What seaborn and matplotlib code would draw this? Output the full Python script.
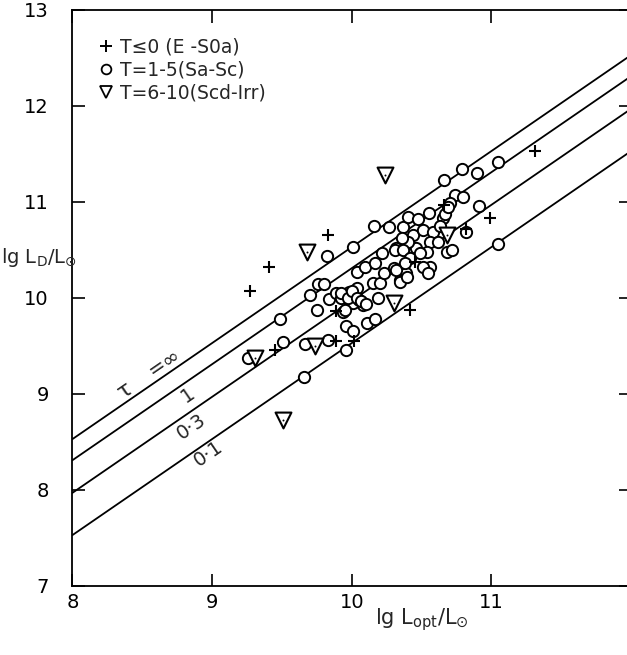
import numpy as np
import pandas as pd
import matplotlib
matplotlib.use("Agg")
import matplotlib.pyplot as plt
import seaborn as sns
from matplotlib.lines import Line2D

# ---- data ----
early_x = [11.31, 10.99, 9.83, 9.41, 9.27, 10.42, 9.89, 9.45, 9.89, 10.02, 10.82, 10.66, 10.45]
early_y = [11.53, 10.83, 10.66, 10.32, 10.07, 9.88, 9.86, 9.46, 9.55, 9.55, 10.72, 10.97, 10.37]

spiral_x = [9.26, 9.51, 9.49, 9.665, 9.66, 9.70, 9.75, 9.76, 9.80, 9.82, 9.83, 9.84, 9.94,
            9.96, 9.96, 10.01, 10.11, 10.17, 9.89, 9.96, 10.035, 10.08, 10.01, 9.92, 9.98,
            10.05, 10.006, 10.035, 10.094, 10.166, 10.154, 10.20, 10.19, 10.214, 10.23,
            10.161, 10.264, 10.30, 10.32, 10.345, 10.39, 10.37, 10.405, 10.476, 10.555,
            10.44, 10.51, 10.583, 10.56, 10.62, 10.536, 10.464, 10.405, 10.357, 10.31,
            10.37, 10.417, 10.49, 10.56, 10.51, 10.38, 10.32, 10.548, 10.345, 10.393,
            10.655, 10.63, 10.665, 10.66, 10.79, 10.90, 11.05, 10.739, 10.80, 10.703,
            10.69, 10.913, 10.817, 10.684, 10.715, 11.05, 9.92, 9.97, 10.00, 10.04,
            10.07, 10.10, 9.95]
spiral_y = [9.37, 9.545, 9.78, 9.52, 9.18, 10.03, 9.875, 10.143, 10.146, 10.44, 9.56, 9.99,
            9.857, 9.458, 9.71, 9.66, 9.736, 9.78, 10.05, 10.03, 10.10, 9.93, 9.945, 10.0,
            10.06, 9.98, 10.535, 10.27, 10.32, 10.36, 10.16, 10.16, 10.0, 10.465, 10.257,
            10.753, 10.736, 10.31, 10.518, 10.19, 10.257, 10.743, 10.847, 10.82, 10.882,
            10.656, 10.708, 10.69, 10.586, 10.586, 10.48, 10.518, 10.586, 10.62, 10.5,
            10.5, 10.413, 10.466, 10.326, 10.326, 10.36, 10.29, 10.257, 10.17, 10.22,
            10.83, 10.75, 10.875, 11.23, 11.34, 11.30, 11.42, 11.07, 11.055, 10.99,
            10.95, 10.958, 10.69, 10.48, 10.50, 10.56, 10.05, 10.0, 10.07, 10.0,
            9.97, 9.94, 9.87]

late_x = [10.24, 9.68, 9.31, 9.74, 9.505, 10.30, 10.68]
late_y = [11.28, 10.48, 9.38, 9.50, 8.73, 9.95, 10.66]

line_x = [8.0, 12.0]
tau_offsets = [0.53, 0.31, -0.03, -0.47]
tau_labels = ["1", "0·3", "0·1"]

legend_labels = ["T≤0 (E -S0a)", "T=1-5(Sa-Sc)", "T=6-10(Scd-Irr)"]
xticks = [8, 9, 10, 11]
yticks = [7, 8, 9, 10, 11, 12, 13]

# ---- figure ----
sns.set_style("ticks")
plt.rcParams["font.family"] = ["DejaVu Sans"]
plt.rcParams["mathtext.fontset"] = "dejavusans"

fig = plt.figure(figsize=(6.27, 6.55), dpi=100)
ax = fig.add_axes([72.4 / 627, 69 / 655, 558.6 / 627, 576 / 655])

# tau lines
for off in tau_offsets:
    ldf = pd.DataFrame({"x": line_x, "y": [v + off for v in line_x]})
    sns.lineplot(data=ldf, x="x", y="y", ax=ax, color="black", lw=1.3, legend=False)

df_e = pd.DataFrame({"x": early_x, "y": early_y})
df_s = pd.DataFrame({"x": spiral_x, "y": spiral_y})
df_l = pd.DataFrame({"x": late_x, "y": late_y})

sns.scatterplot(data=df_s, x="x", y="y", ax=ax, marker="o", s=66,
                facecolor="white", edgecolor="black", linewidth=1.4, zorder=3)
sns.scatterplot(data=df_e, x="x", y="y", ax=ax, marker="+", s=80,
                color="black", linewidth=1.5, zorder=4)
sns.scatterplot(data=df_l, x="x", y="y", ax=ax, marker="v", s=130,
                facecolor="white", edgecolor="black", linewidth=1.5, zorder=4)
sns.scatterplot(data=df_l, x="x", y="y", ax=ax, marker=".", s=8,
                color="black", linewidth=0, zorder=5)

# line labels
ang = 34.5
ax.text(8.38, 9.04, "τ", rotation=ang, fontsize=16, ha="center", va="center")
ax.text(8.66, 9.33, "=∞", rotation=ang, fontsize=15, ha="center", va="center")
for (lx, ly), lab in zip([(8.83, 8.99), (8.855, 8.66), (8.97, 8.38)], tau_labels):
    ax.text(lx, ly, lab, rotation=ang, fontsize=14, ha="center", va="center")

# legend
h1 = Line2D([], [], marker="+", ls="none", color="black", markersize=9, mew=1.4)
h2 = Line2D([], [], marker="o", ls="none", mfc="white", mec="black", markersize=7, mew=1.3)
h3 = Line2D([], [], marker="v", ls="none", mfc="white", mec="black", markersize=9, mew=1.3)
leg = ax.legend([h1, h2, h3], legend_labels, loc="upper left", frameon=False,
                fontsize=13.5, handletextpad=0.25, handlelength=1.0, labelspacing=0.2,
                borderaxespad=0.0, bbox_to_anchor=(0.03, 0.965))

ax.set_xlim(8, 12)
ax.set_ylim(7, 13)
ax.set_xticks(xticks)
ax.set_yticks(yticks)
ax.set_xticklabels([str(t) for t in xticks])
ax.set_yticklabels([str(t) for t in yticks])
ax.tick_params(axis="both", direction="in", length=9, width=1.2, top=True, right=True,
               labelsize=14, colors="black")
ax.tick_params(axis="y", pad=17)
ax.tick_params(axis="x", pad=5)
for sp in ax.spines.values():
    sp.set_linewidth(1.3)
    sp.set_color("black")
ax.set_xlabel("")
ax.set_ylabel("")

ax.text(-0.128, 0.57, r"lg L$_{\mathrm{D}}$/L$_{\odot}$", transform=ax.transAxes,
        fontsize=14, ha="left", va="center")
fig.text(422 / 627, 1 - 620 / 655, r"lg L$_{\mathrm{opt}}$/L$_{\odot}$", fontsize=15,
         ha="center", va="center")

fig.savefig("out.png", dpi=100)
